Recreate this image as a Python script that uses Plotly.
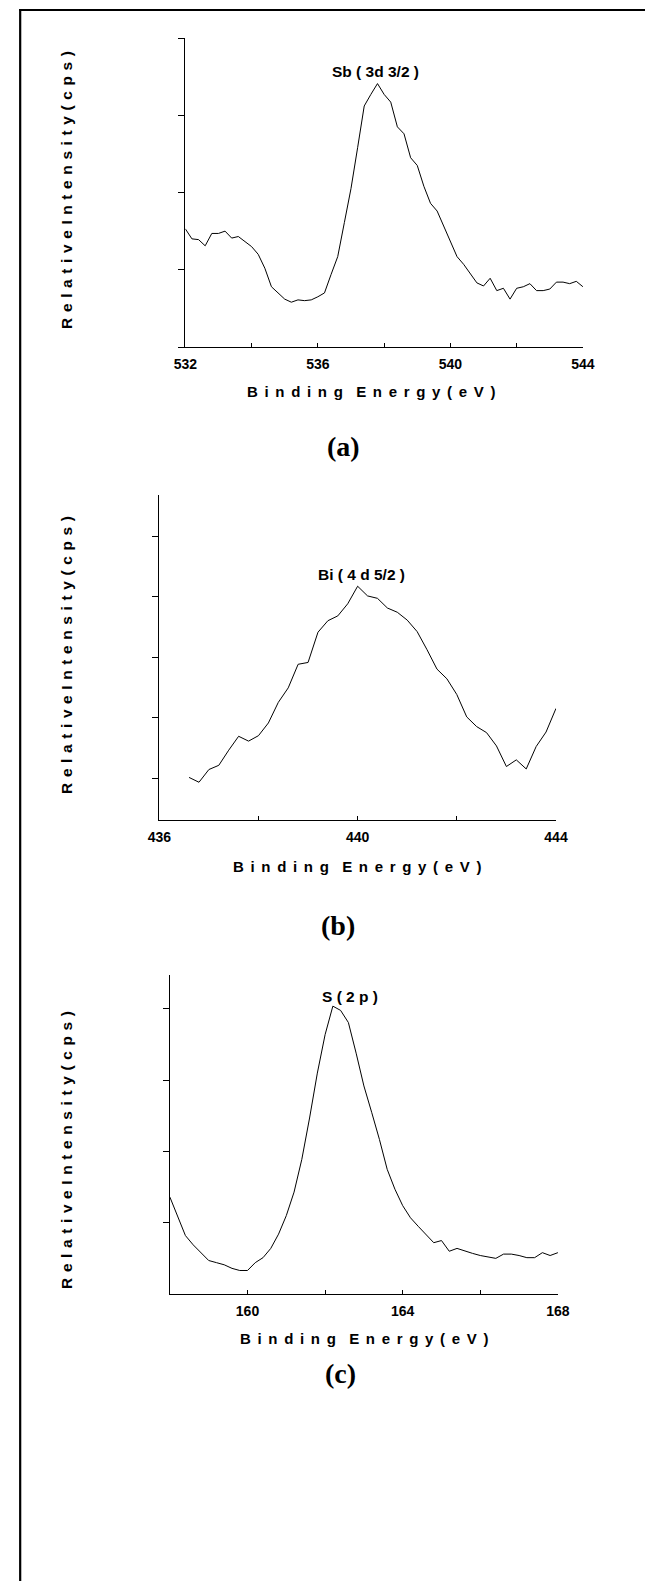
import plotly.graph_objects as go

W, H = 645, 1581

# ---------------- data ----------------
sb_energy = [532.0, 532.2, 532.4, 532.6, 532.8, 533.0, 533.2, 533.4, 533.6, 533.8,
             534.0, 534.2, 534.4, 534.6, 534.8, 535.0, 535.2, 535.4, 535.6, 535.8,
             536.0, 536.2, 536.4, 536.6, 536.8, 537.0, 537.2, 537.4, 537.6, 537.8,
             538.0, 538.2, 538.4, 538.6, 538.8, 539.0, 539.2, 539.4, 539.6, 539.8,
             540.0, 540.2, 540.4, 540.6, 540.8, 541.0, 541.2, 541.4, 541.6, 541.8,
             542.0, 542.2, 542.4, 542.6, 542.8, 543.0, 543.2, 543.4, 543.6, 543.8,
             544.0]
sb_counts = [1.53, 1.40, 1.39, 1.31, 1.47, 1.47, 1.50, 1.41, 1.43, 1.37,
             1.30, 1.20, 1.02, 0.78, 0.70, 0.62, 0.58, 0.61, 0.60, 0.61,
             0.65, 0.70, 0.94, 1.17, 1.61, 2.05, 2.58, 3.12, 3.27, 3.41,
             3.27, 3.17, 2.85, 2.76, 2.45, 2.35, 2.08, 1.86, 1.76, 1.56,
             1.37, 1.17, 1.07, 0.95, 0.83, 0.79, 0.89, 0.73, 0.76, 0.62,
             0.76, 0.78, 0.82, 0.73, 0.73, 0.75, 0.84, 0.84, 0.82, 0.85,
             0.78]

bi_energy = [436.6, 436.8, 437.0, 437.2, 437.4, 437.6, 437.8, 438.0, 438.2, 438.4,
             438.6, 438.8, 439.0, 439.2, 439.4, 439.6, 439.8, 440.0, 440.2, 440.4,
             440.6, 440.8, 441.0, 441.2, 441.4, 441.6, 441.8, 442.0, 442.2, 442.4,
             442.6, 442.8, 443.0, 443.2, 443.4, 443.6, 443.8, 444.0]
bi_counts = [1.01, 0.93, 1.14, 1.21, 1.46, 1.69, 1.61, 1.70, 1.91, 2.25,
             2.49, 2.88, 2.91, 3.41, 3.60, 3.68, 3.88, 4.17, 4.01, 3.97,
             3.81, 3.74, 3.61, 3.42, 3.12, 2.80, 2.64, 2.38, 2.01, 1.85,
             1.75, 1.53, 1.19, 1.30, 1.15, 1.52, 1.76, 2.15]

s_energy = [158.0, 158.4, 158.6, 158.8, 159.0, 159.2, 159.4, 159.6, 159.8, 160.0,
            160.2, 160.4, 160.6, 160.8, 161.0, 161.2, 161.4, 161.6, 161.8, 162.0,
            162.2, 162.4, 162.6, 162.8, 163.0, 163.2, 163.4, 163.6, 163.8, 164.0,
            164.2, 164.4, 164.6, 164.8, 165.0, 165.2, 165.4, 165.6, 165.8, 166.0,
            166.2, 166.4, 166.6, 166.8, 167.0, 167.2, 167.4, 167.6, 167.8, 168.0]
s_counts = [1.36, 0.82, 0.69, 0.58, 0.47, 0.44, 0.41, 0.36, 0.33, 0.33,
            0.44, 0.51, 0.64, 0.84, 1.10, 1.43, 1.89, 2.47, 3.10, 3.64,
            4.04, 3.98, 3.81, 3.38, 2.92, 2.55, 2.17, 1.75, 1.47, 1.24,
            1.07, 0.95, 0.83, 0.72, 0.75, 0.60, 0.64, 0.60, 0.57, 0.54,
            0.52, 0.50, 0.56, 0.56, 0.54, 0.51, 0.51, 0.58, 0.54, 0.58]

sb_xticks = [532, 534, 536, 538, 540, 542, 544]
sb_xlabels = ["532", "", "536", "", "540", "", "544"]
bi_xticks = [436, 438, 440, 442, 444]
bi_xlabels = ["436", "", "440", "", "444"]
s_xticks = [158, 160, 162, 164, 166, 168]
s_xlabels = ["", "160", "", "164", "", "168"]

peak_labels = ["Sb ( 3d 3/2 )", "Bi ( 4 d 5/2 )", "S ( 2 p )"]
panel_labels = ["(a)", "(b)", "(c)"]

# ---------------- helpers ----------------
def fx(p):
    return p / W

def fy(p):
    return 1 - p / H

SANS = "Liberation Sans, Arial, sans-serif"
SERIF = "Liberation Serif, Times New Roman, serif"
GX = " \u200a\u200a"
GY = " \u200a"
XTITLE = GX.join("Binding") + GX + GX + GX.join("Energy") + GX + GX.join("(eV)")
YTITLE = GY.join("Relative") + GY + GY.join("Intensity") + GY + GY.join("(cps)")

fig = go.Figure()
fig.add_trace(go.Scatter(x=sb_energy, y=sb_counts, mode="lines", xaxis="x", yaxis="y",
                         line=dict(color="black", width=1), showlegend=False))
fig.add_trace(go.Scatter(x=bi_energy, y=bi_counts, mode="lines", xaxis="x2", yaxis="y2",
                         line=dict(color="black", width=1), showlegend=False))
fig.add_trace(go.Scatter(x=s_energy, y=s_counts, mode="lines", xaxis="x3", yaxis="y3",
                         line=dict(color="black", width=1), showlegend=False))

def xax(dom, rng, tv, tt, anchor):
    return dict(domain=[fx(dom[0]), fx(dom[1])], range=rng, anchor=anchor,
                showline=True, linecolor="black", linewidth=1.2, mirror=False,
                ticks="inside", ticklen=4, tickwidth=1, tickcolor="black",
                tickvals=tv, ticktext=tt, ticklabelstandoff=4,
                tickfont=dict(family=SANS, size=14, color="black", weight="bold"),
                showgrid=False, zeroline=False)

def yax(dom, rng, tv, anchor):
    return dict(domain=[fy(dom[1]), fy(dom[0])], range=rng, anchor=anchor,
                showline=True, linecolor="black", linewidth=1.2,
                ticks="outside", ticklen=6, tickwidth=1, tickcolor="black",
                tickvals=tv, showticklabels=False,
                showgrid=False, zeroline=False)

layout = dict(
    width=W, height=H, margin=dict(l=0, r=0, t=0, b=0),
    paper_bgcolor="white", plot_bgcolor="white",
    xaxis=xax((180, 593), [532, 544], sb_xticks, sb_xlabels, "y"),
    yaxis=yax((38, 347), [0, 4], [0, 1, 2, 3, 4], "x"),
    xaxis2=xax((153, 565), [436, 444], bi_xticks, bi_xlabels, "y2"),
    yaxis2=yax((495, 820), [0.306, 5.678], [1, 2, 3, 4, 5], "x2"),
    xaxis3=xax((164, 567), [158, 168], s_xticks, s_xlabels, "y3"),
    yaxis3=yax((975, 1294), [0, 4.477], [1, 2, 3, 4], "x3"),
)

ann = []
# peak labels (data coordinates)
for lab, xr, yr, xv, yv in [(peak_labels[0], "x", "y", 537.75, 3.57),
                            (peak_labels[1], "x2", "y2", 440.08, 4.37),
                            (peak_labels[2], "x3", "y3", 162.64, 4.17)]:
    ann.append(dict(text=lab, x=xv, y=yv, xref=xr, yref=yr, showarrow=False,
                    xanchor="center", yanchor="middle",
                    font=dict(family=SANS, size=15.5, color="black", weight="bold")))

# axis titles and panel labels (paper coordinates)
for (xtx, xty), (ytx, yty), (plx, ply), pl in [((373, 391), (57, 190), (344, 446), panel_labels[0]),
                                               ((358, 866), (56, 655), (339, 925), panel_labels[1]),
                                               ((366, 1338), (56, 1150), (341, 1373), panel_labels[2])]:
    ann.append(dict(text=XTITLE, x=fx(xtx), y=fy(xty), xref="paper", yref="paper",
                    showarrow=False, xanchor="center", yanchor="middle",
                    font=dict(family=SANS, size=15, color="black", weight="bold")))
    ann.append(dict(text=YTITLE, x=fx(ytx), y=fy(yty), xref="paper", yref="paper",
                    showarrow=False, xanchor="center", yanchor="middle", textangle=-90,
                    font=dict(family=SANS, size=15.5, color="black", weight="bold")))
    ann.append(dict(text=pl, x=fx(plx), y=fy(ply), xref="paper", yref="paper",
                    showarrow=False, xanchor="center", yanchor="middle",
                    font=dict(family=SERIF, size=28, color="black", weight="bold")))

layout["annotations"] = ann
layout["shapes"] = [
    dict(type="line", xref="paper", yref="paper", x0=fx(7.5), x1=fx(660), y0=fy(10), y1=fy(10),
         line=dict(color="black", width=2.2)),
    dict(type="line", xref="paper", yref="paper", x0=fx(8.5), x1=fx(8.5), y0=fy(9), y1=fy(1600),
         line=dict(color="black", width=2.2)),
]

fig.update_layout(**layout)
fig.write_html("out.html")
